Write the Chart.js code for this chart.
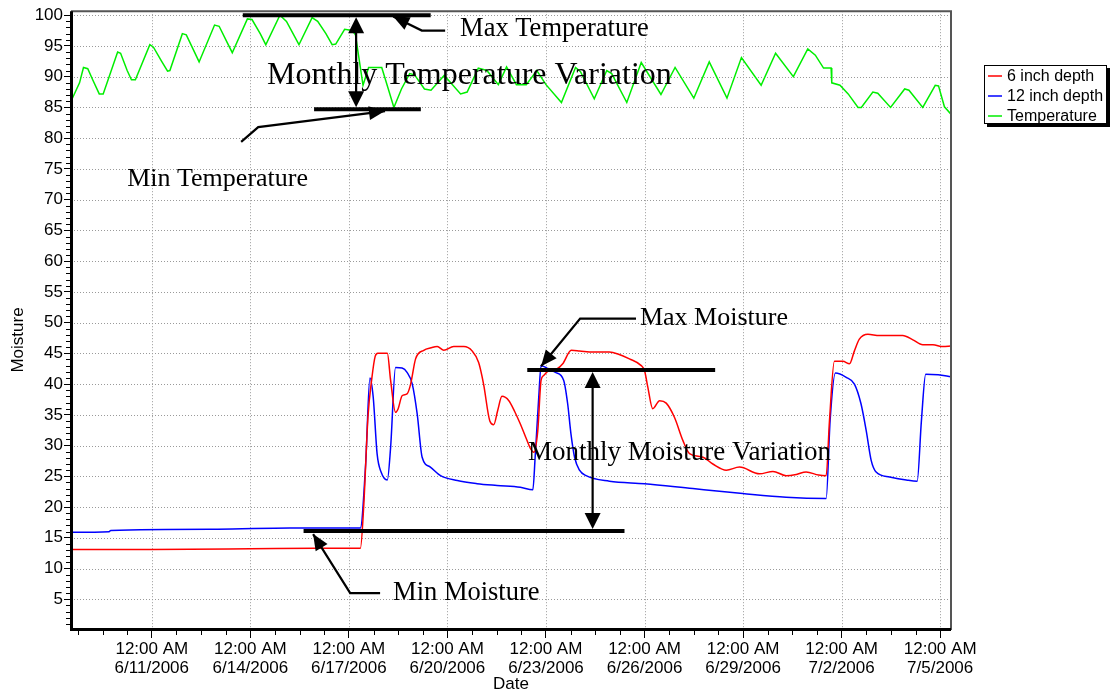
<!DOCTYPE html>
<html>
<head>
<meta charset="utf-8">
<title>Soil Moisture and Temperature</title>
<script src="https://cdn.jsdelivr.net/npm/chart.js@4.4.1/dist/chart.umd.min.js"></script>
<style>
  html, body { margin: 0; padding: 0; background: #fff; }
</style>
</head>
<body>
<canvas id="moistureChart" width="1111" height="693"></canvas>
<script>
// x values are days counted from 12:00 AM 6/11/2006
const dayTicks = [0, 3, 6, 9, 12, 15, 18, 21, 24];
const moistureTicks = [5, 10, 15, 20, 25, 30, 35, 40, 45, 50, 55, 60, 65, 70, 75, 80, 85, 90, 95, 100];

const tempDays = [-2.46, -2.2, -2.08, -1.95, -1.8, -1.6, -1.48, -1.04, -0.95, -0.75, -0.62, -0.5, -0.06, 0.05, 0.3, 0.48, 0.55,
  0.93, 1.05, 1.3, 1.44, 1.91, 2.05, 2.3, 2.45, 2.91, 3.05, 3.3, 3.47, 3.9, 4.1, 4.3, 4.48, 4.88, 5.05, 5.3, 5.49, 5.6,
  5.87, 6.1, 6.2, 6.43, 6.6, 7.0, 7.2, 7.37, 7.6, 7.85, 8.0, 8.3, 8.5, 8.9, 9.1, 9.4, 9.6, 9.94, 10.2, 10.55, 10.8,
  11.1, 11.4, 11.72, 12.0, 12.47, 12.9, 13.05, 13.47, 13.85, 14.0, 14.46, 14.9, 15.5, 15.93, 16.5, 16.97, 17.51, 17.95,
  18.55, 18.99, 19.53, 19.97, 20.2, 20.45, 20.68, 20.7, 20.95, 21.2, 21.5, 21.6, 21.95, 22.1, 22.49, 22.92, 23.05,
  23.47, 23.85, 23.95, 24.13, 24.33];
const tempValues = [86, 89, 91.5, 91.3, 89.5, 87.2, 87.2, 94, 93.8, 91, 89.5, 89.5, 95.2, 94.8, 92.5, 90.9, 91,
  97, 96.8, 94, 92.4, 98.4, 98.2, 95.5, 93.9, 99.4, 99.3, 97, 95.2, 100, 99, 97, 95.2, 99.6, 99, 97, 95.2, 95.3,
  97.7, 97.5, 96.8, 88.6, 91.5, 91.5, 88, 85, 88, 90.5, 90.3, 88, 87.8, 90.2, 89, 87.2, 87.5, 91.4, 91, 88.7, 91.6,
  88.7, 88.7, 91, 88.7, 85.8, 91.5, 90.8, 86.4, 91, 90.5, 85.8, 92.3, 87.1, 91.5, 86.5, 92.4, 86.5, 93.1,
  88.6, 93.8, 90, 94.5, 93.5, 91.4, 91.4, 89, 88.6, 87.2, 85, 85, 87.5, 87.3, 85, 88, 87.8,
  85, 88.6, 88.5, 85.1, 83.9];

const shallowDays = [-2.46, -2.4, 0, 3, 5, 6.35, 6.45, 6.58, 6.7, 6.8, 6.88, 7.17, 7.27, 7.42, 7.5, 7.62, 7.77, 7.88,
  8.03, 8.28, 8.5, 8.69, 8.89, 9.19, 9.5, 9.75, 9.95, 10.1, 10.29, 10.41, 10.53, 10.66, 10.87, 11.05, 11.22, 11.38,
  11.53, 11.63, 11.75, 11.85, 11.93, 12.08, 12.34, 12.51, 12.77, 13.02, 13.43, 13.93, 14.19, 14.54, 14.9, 15.0, 15.1,
  15.25, 15.46, 15.66, 15.91, 16.17, 16.37, 16.78, 17.08, 17.49, 17.89, 18.5, 18.91, 19.31, 19.62, 19.92, 20.3, 20.53,
  20.63, 20.78, 21.04, 21.24, 21.39, 21.54, 21.8, 22.15, 22.56, 22.86, 23.17, 23.47, 23.78, 24.08, 24.33];
const shallowValues = [12.8, 13.1, 13.1, 13.2, 13.3, 13.3, 20, 34.6, 41, 44.5, 45, 45, 40.6, 35.4, 36, 38.1, 38.4, 40,
  44.1, 45.5, 45.9, 46.1, 45.5, 46.1, 46.1, 45.4, 43.5, 40, 34, 33.4, 35.7, 38, 37.3, 35.5, 33.5, 31.4,
  29.5, 28.9, 32.4, 40.6, 41.4, 42.2, 42.5, 43.3, 45.5, 45.4, 45.2, 45.2, 44.9, 44.1, 43, 42.2, 39.5,
  36, 37.3, 36.9, 34.6, 30.8, 28.7, 28.1, 27, 26, 26.5, 25.4, 25.8, 25.1, 25.3, 25.7, 25.2, 25.1,
  34, 43.7, 43.7, 43.3, 45.4, 47.3, 48.1, 47.9, 47.9, 47.9, 47.2, 46.4, 46.4, 46.1, 46.2];

const deepDays = [-2.46, -1.3, -1.25, 2, 4.2, 6.35, 6.51, 6.64, 6.74, 6.86, 6.98, 7.17, 7.27, 7.42, 7.62, 7.77, 7.93,
  8.08, 8.23, 8.48, 8.79, 9.3, 9.9, 10.51, 11.22, 11.6, 11.67, 11.78, 11.85, 12.03, 12.29, 12.54, 12.66, 12.76,
  12.87, 13.02, 13.22, 13.93, 15, 16.47, 17.99, 19.31, 20.53, 20.65, 20.81, 21.14, 21.39, 21.59, 21.75, 21.9,
  22.05, 22.46, 22.97, 23.3, 23.43, 23.56, 23.94, 24.33];
const deepValues = [15.9, 16.0, 16.2, 16.4, 16.6, 16.6, 27, 41, 37.9, 28.6, 25.7, 24.4, 29.7, 42.7, 42.6, 41.9, 40,
  35.1, 28.1, 26.5, 25.1, 24.3, 23.8, 23.5, 23.2, 22.8, 28.1, 37.9, 43, 42.6, 41.9, 40.6, 36.8, 31.9,
  28.1, 26, 25.1, 24.2, 23.8, 23, 22.2, 21.6, 21.4, 34.1, 41.8, 41.1, 40, 36.8, 32.4, 27.6,
  25.7, 24.9, 24.4, 24.2, 34.1, 41.6, 41.5, 41.2];

const SERIF = '"Liberation Serif", "Times New Roman", serif';
const SANS = '"Liberation Sans", Arial, Helvetica, sans-serif';

// callouts, all placed in axis units (day, value)
const notes = {
  bars: [
    { from: 2.77, to: 8.49, at: 100 },   // max temperature
    { from: 4.94, to: 8.19, at: 84.7 },  // min temperature
    { from: 11.43, to: 17.15, at: 42.3 },// max moisture
    { from: 4.62, to: 14.39, at: 16.1 }  // min moisture
  ],
  spans: [
    { day: 6.22, top: 100, bottom: 84.7 },
    { day: 13.42, top: 42.3, bottom: 16.1 }
  ],
  pointers: [
    [[8.93, 97.5], [8.22, 97.5], [7.35, 99.8]],
    [[2.72, 79.4], [3.24, 81.8], [7.1, 84.4]],
    [[14.74, 50.65], [13.04, 50.65], [11.85, 42.9]],
    [[6.95, 6.0], [6.04, 6.0], [4.91, 15.6]]
  ],
  labels: [
    { text: 'Max Temperature', day: 9.385, value: 97.73, size: 26.5 },
    { text: 'Monthly Temperature Variation', day: 3.51, value: 90.1, size: 32 },
    { text: 'Min Temperature', day: -0.75, value: 73.4, size: 26 },
    { text: 'Max Moisture', day: 14.86, value: 50.65, size: 26 },
    { text: 'Monthly Moisture Variation', day: 11.455, value: 28.73, size: 27 },
    { text: 'Min Moisture', day: 7.345, value: 6.0, size: 26.5 }
  ]
};

function toPoints(days, values) {
  return days.map((d, i) => ({ x: d, y: values[i] }));
}

function dateLabel(day) {
  const d = new Date(Date.UTC(2006, 5, 11) + Math.round(day * 86400000));
  const h = d.getUTCHours();
  const mm = String(d.getUTCMinutes()).padStart(2, '0');
  const time = (h % 12 || 12) + ':' + mm + (h < 12 ? ' AM' : ' PM');
  return [time, (d.getUTCMonth() + 1) + '/' + d.getUTCDate() + '/' + d.getUTCFullYear()];
}

function seg(ctx, x0, y0, x1, y1) {
  ctx.beginPath();
  ctx.moveTo(x0, y0);
  ctx.lineTo(x1, y1);
  ctx.stroke();
}

function head(ctx, x0, y0, x1, y1, len, half) {
  const a = Math.atan2(y1 - y0, x1 - x0);
  const c = Math.cos(a), s = Math.sin(a);
  ctx.beginPath();
  ctx.moveTo(x1, y1);
  ctx.lineTo(x1 - len * c + half * s, y1 - len * s - half * c);
  ctx.lineTo(x1 - len * c - half * s, y1 - len * s + half * c);
  ctx.closePath();
  ctx.fill();
}

const overlay = {
  id: 'overlay',
  beforeDatasetsDraw(chart) {
    const { ctx, chartArea: a, scales: { x, y } } = chart;
    ctx.save();
    ctx.strokeStyle = '#9a9a9a';
    ctx.lineWidth = 1;
    ctx.setLineDash([1, 2]);
    dayTicks.forEach(v => {
      const px = Math.round(x.getPixelForValue(v)) + 0.5;
      seg(ctx, px, a.top, px, a.bottom);
    });
    moistureTicks.forEach(v => {
      const py = Math.round(y.getPixelForValue(v)) + 0.5;
      seg(ctx, a.left, py, a.right, py);
    });
    ctx.restore();
  },
  afterDatasetsDraw(chart) {
    const { ctx, chartArea: a, scales: { x, y } } = chart;
    ctx.save();

    // frame: grey top/right, heavy black axes
    ctx.strokeStyle = '#555';
    ctx.lineWidth = 2;
    ctx.beginPath();
    ctx.moveTo(a.left, a.top);
    ctx.lineTo(a.right, a.top);
    ctx.lineTo(a.right, a.bottom);
    ctx.stroke();
    ctx.strokeStyle = '#000';
    ctx.lineWidth = 3;
    ctx.beginPath();
    ctx.moveTo(a.left + 0.5, a.top);
    ctx.lineTo(a.left + 0.5, a.bottom - 0.5);
    ctx.lineTo(a.right, a.bottom - 0.5);
    ctx.stroke();

    // minor ticks
    ctx.lineWidth = 1;
    for (let d = -2.25; d < x.max; d += 0.75) {
      if (dayTicks.includes(d)) continue;
      const px = Math.round(x.getPixelForValue(d)) + 0.5;
      seg(ctx, px, a.bottom + 1, px, a.bottom + 5);
    }
    for (let v = 1; v < 100; v++) {
      if (v % 5 === 0) continue;
      const py = Math.round(y.getPixelForValue(v)) + 0.5;
      seg(ctx, a.left - 5, py, a.left - 1, py);
    }

    // callouts
    ctx.fillStyle = '#000';
    ctx.lineCap = 'butt';
    ctx.lineWidth = 4;
    notes.bars.forEach(b => {
      const py = y.getPixelForValue(b.at);
      seg(ctx, x.getPixelForValue(b.from), py, x.getPixelForValue(b.to), py);
    });
    ctx.lineWidth = 2.2;
    notes.spans.forEach(s => {
      const px = x.getPixelForValue(s.day);
      const top = y.getPixelForValue(s.top) + 2;
      const bottom = y.getPixelForValue(s.bottom) - 2;
      seg(ctx, px, top + 10, px, bottom - 10);
      head(ctx, px, bottom, px, top, 16, 8);
      head(ctx, px, top, px, bottom, 16, 8);
    });
    notes.pointers.forEach(p => {
      const pts = p.map(q => [x.getPixelForValue(q[0]), y.getPixelForValue(q[1])]);
      ctx.beginPath();
      ctx.moveTo(pts[0][0], pts[0][1]);
      ctx.lineTo(pts[1][0], pts[1][1]);
      ctx.lineTo(pts[2][0], pts[2][1]);
      ctx.stroke();
      head(ctx, pts[1][0], pts[1][1], pts[2][0], pts[2][1], 16, 7);
    });
    ctx.textBaseline = 'middle';
    ctx.textAlign = 'left';
    notes.labels.forEach(l => {
      ctx.font = l.size + 'px ' + SERIF;
      ctx.fillText(l.text, x.getPixelForValue(l.day), y.getPixelForValue(l.value));
    });
    ctx.restore();
  },
  afterDraw(chart) {
    const { ctx, chartArea: a } = chart;
    ctx.save();

    // axis titles
    ctx.fillStyle = '#000';
    ctx.font = '17px ' + SANS;
    ctx.textAlign = 'center';
    ctx.textBaseline = 'middle';
    ctx.fillText('Date', (a.left + a.right) / 2, 684);
    ctx.translate(18, 340);
    ctx.rotate(-Math.PI / 2);
    ctx.fillText('Moisture', 0, 0);
    ctx.setTransform(1, 0, 0, 1, 0, 0);

    // legend box with drop shadow
    const bx = 984, by = 65, bw = 123, bh = 59;
    ctx.fillStyle = '#000';
    ctx.fillRect(bx + 3, by + 3, bw, bh);
    ctx.fillStyle = '#fff';
    ctx.fillRect(bx, by, bw, bh);
    ctx.strokeStyle = '#000';
    ctx.lineWidth = 1;
    ctx.strokeRect(bx + 0.5, by + 0.5, bw - 1, bh - 1);
    ctx.font = '16px ' + SANS;
    ctx.textAlign = 'left';
    chart.data.datasets.forEach((ds, i) => {
      const ly = by + 11 + i * 20;
      ctx.strokeStyle = ds.borderColor;
      ctx.lineWidth = 1.5;
      seg(ctx, bx + 4, ly, bx + 18, ly);
      ctx.fillStyle = '#000';
      ctx.fillText(ds.label, bx + 23, ly + 1);
    });
    ctx.restore();
  }
};

Chart.defaults.color = '#000';
Chart.defaults.font.family = SANS;

new Chart(document.getElementById('moistureChart'), {
  type: 'line',
  data: {
    datasets: [
      {
        label: '6 inch depth',
        data: toPoints(shallowDays, shallowValues),
        borderColor: '#ff0000',
        cubicInterpolationMode: 'monotone'
      },
      {
        label: '12 inch depth',
        data: toPoints(deepDays, deepValues),
        borderColor: '#0000ff',
        cubicInterpolationMode: 'monotone'
      },
      {
        label: 'Temperature',
        data: toPoints(tempDays, tempValues),
        borderColor: '#00ee00'
      }
    ]
  },
  options: {
    responsive: false,
    animation: false,
    layout: { padding: { top: 10, right: 160, left: 0, bottom: 0 } },
    elements: { line: { borderWidth: 1.5 }, point: { radius: 0 } },
    plugins: { legend: { display: false }, tooltip: { enabled: false } },
    scales: {
      x: {
        type: 'linear',
        min: -2.46,
        max: 24.33,
        afterBuildTicks: (scale) => { scale.ticks = dayTicks.map(v => ({ value: v })); },
        afterFit: (scale) => { scale.height = 63; },
        border: { display: false },
        grid: { drawOnChartArea: false, tickLength: 8, tickColor: '#000', tickWidth: 1 },
        ticks: {
          autoSkip: false,
          maxRotation: 0,
          padding: 2,
          font: { size: 17, lineHeight: 1.1 },
          callback: (v) => dateLabel(v)
        }
      },
      y: {
        min: 0,
        max: 100.65,
        afterBuildTicks: (scale) => { scale.ticks = moistureTicks.map(v => ({ value: v })); },
        afterFit: (scale) => { scale.width = 71; },
        border: { display: false },
        grid: { drawOnChartArea: false, tickLength: 7, tickColor: '#000', tickWidth: 1 },
        ticks: { padding: 1, font: { size: 17 } }
      }
    }
  },
  plugins: [overlay]
});
</script>
</body>
</html>
